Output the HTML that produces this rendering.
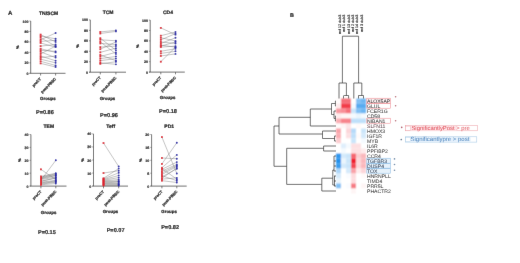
<!DOCTYPE html>
<html><head><meta charset="utf-8"><style>
html,body{margin:0;padding:0;background:#fff;}
body{width:520px;height:263px;overflow:hidden;}
svg{display:block;font-family:"Liberation Sans", sans-serif;text-rendering:geometricPrecision;will-change:transform;}
.s{stroke:#111;stroke-width:0.22px;}
.g{stroke:#333;stroke-width:0.03px;}
.r{stroke:#111;stroke-width:0.18px;}
.m{stroke:#111;stroke-width:0.16px;}
.c{stroke:#222;stroke-width:0.15px;}
.t{stroke:#111;stroke-width:0.16px;}
</style></head><body>
<svg width="520" height="263" viewBox="0 0 520 263">
<defs><filter id="gb" filterUnits="userSpaceOnUse" x="0" y="0" width="520" height="263"><feConvolveMatrix order="3" kernelMatrix="0 1 0 1 16 1 0 1 0" divisor="20" edgeMode="duplicate"/></filter></defs>
<g filter="url(#gb)">
<rect width="520" height="263" fill="#fff"/>
<defs><filter id="hb" filterUnits="userSpaceOnUse" x="330" y="92" width="42" height="108"><feConvolveMatrix order="3" kernelMatrix="1 2 1 2 4 2 1 2 1" divisor="16" edgeMode="none"/></filter></defs>
<g filter="url(#hb)">
<rect x="336.0" y="98.5" width="5.05" height="5.05" fill="#fffafa"/>
<rect x="341.0" y="98.5" width="5.05" height="5.05" fill="#f57079"/>
<rect x="346.0" y="98.5" width="5.05" height="5.05" fill="#f57079"/>
<rect x="351.0" y="98.5" width="5.05" height="5.05" fill="#ffffff"/>
<rect x="356.0" y="98.5" width="5.05" height="5.05" fill="#82c0f4"/>
<rect x="361.0" y="98.5" width="5.05" height="5.05" fill="#6db6f2"/>
<rect x="336.0" y="103.5" width="5.05" height="5.05" fill="#feebec"/>
<rect x="341.0" y="103.5" width="5.05" height="5.05" fill="#f23d4a"/>
<rect x="346.0" y="103.5" width="5.05" height="5.05" fill="#f23d4a"/>
<rect x="351.0" y="103.5" width="5.05" height="5.05" fill="#f5fafe"/>
<rect x="356.0" y="103.5" width="5.05" height="5.05" fill="#58abf0"/>
<rect x="361.0" y="103.5" width="5.05" height="5.05" fill="#58abf0"/>
<rect x="336.0" y="108.5" width="5.05" height="5.05" fill="#f899a0"/>
<rect x="341.0" y="108.5" width="5.05" height="5.05" fill="#f88e96"/>
<rect x="346.0" y="108.5" width="5.05" height="5.05" fill="#f57079"/>
<rect x="351.0" y="108.5" width="5.05" height="5.05" fill="#cbe5fa"/>
<rect x="356.0" y="108.5" width="5.05" height="5.05" fill="#82c0f4"/>
<rect x="361.0" y="108.5" width="5.05" height="5.05" fill="#6db6f2"/>
<rect x="336.0" y="113.5" width="5.05" height="5.05" fill="#feebec"/>
<rect x="341.0" y="113.5" width="5.05" height="5.05" fill="#fef5f5"/>
<rect x="346.0" y="113.5" width="5.05" height="5.05" fill="#fef5f5"/>
<rect x="351.0" y="113.5" width="5.05" height="5.05" fill="#f5fafe"/>
<rect x="356.0" y="113.5" width="5.05" height="5.05" fill="#eaf5fd"/>
<rect x="361.0" y="113.5" width="5.05" height="5.05" fill="#f5fafe"/>
<rect x="336.0" y="118.5" width="5.05" height="5.05" fill="#faadb3"/>
<rect x="341.0" y="118.5" width="5.05" height="5.05" fill="#f7848c"/>
<rect x="346.0" y="118.5" width="5.05" height="5.05" fill="#f7848c"/>
<rect x="351.0" y="118.5" width="5.05" height="5.05" fill="#c0e0fa"/>
<rect x="356.0" y="118.5" width="5.05" height="5.05" fill="#c0e0fa"/>
<rect x="361.0" y="118.5" width="5.05" height="5.05" fill="#c0e0fa"/>
<rect x="336.0" y="123.5" width="5.05" height="5.05" fill="#fffafa"/>
<rect x="341.0" y="123.5" width="5.05" height="5.05" fill="#fef5f5"/>
<rect x="346.0" y="123.5" width="5.05" height="5.05" fill="#fde5e7"/>
<rect x="351.0" y="123.5" width="5.05" height="5.05" fill="#ffffff"/>
<rect x="356.0" y="123.5" width="5.05" height="5.05" fill="#fffafa"/>
<rect x="361.0" y="123.5" width="5.05" height="5.05" fill="#ffffff"/>
<rect x="336.0" y="128.5" width="5.05" height="5.05" fill="#f9a3a9"/>
<rect x="341.0" y="128.5" width="5.05" height="5.05" fill="#ffffff"/>
<rect x="346.0" y="128.5" width="5.05" height="5.05" fill="#fcd6d9"/>
<rect x="351.0" y="128.5" width="5.05" height="5.05" fill="#b6daf9"/>
<rect x="356.0" y="128.5" width="5.05" height="5.05" fill="#ffffff"/>
<rect x="361.0" y="128.5" width="5.05" height="5.05" fill="#cbe5fa"/>
<rect x="336.0" y="133.5" width="5.05" height="5.05" fill="#faadb3"/>
<rect x="341.0" y="133.5" width="5.05" height="5.05" fill="#ffffff"/>
<rect x="346.0" y="133.5" width="5.05" height="5.05" fill="#fde0e2"/>
<rect x="351.0" y="133.5" width="5.05" height="5.05" fill="#c0e0fa"/>
<rect x="356.0" y="133.5" width="5.05" height="5.05" fill="#fffafa"/>
<rect x="361.0" y="133.5" width="5.05" height="5.05" fill="#d5eafb"/>
<rect x="336.0" y="138.5" width="5.05" height="5.05" fill="#fccccf"/>
<rect x="341.0" y="138.5" width="5.05" height="5.05" fill="#ffffff"/>
<rect x="346.0" y="138.5" width="5.05" height="5.05" fill="#ffffff"/>
<rect x="351.0" y="138.5" width="5.05" height="5.05" fill="#cbe5fa"/>
<rect x="356.0" y="138.5" width="5.05" height="5.05" fill="#ffffff"/>
<rect x="361.0" y="138.5" width="5.05" height="5.05" fill="#f5fafe"/>
<rect x="336.0" y="143.5" width="5.05" height="5.05" fill="#ffffff"/>
<rect x="341.0" y="143.5" width="5.05" height="5.05" fill="#e0effc"/>
<rect x="346.0" y="143.5" width="5.05" height="5.05" fill="#f5fafe"/>
<rect x="351.0" y="143.5" width="5.05" height="5.05" fill="#fde0e2"/>
<rect x="356.0" y="143.5" width="5.05" height="5.05" fill="#fde0e2"/>
<rect x="361.0" y="143.5" width="5.05" height="5.05" fill="#ffffff"/>
<rect x="336.0" y="148.5" width="5.05" height="5.05" fill="#ffffff"/>
<rect x="341.0" y="148.5" width="5.05" height="5.05" fill="#f5fafe"/>
<rect x="346.0" y="148.5" width="5.05" height="5.05" fill="#ffffff"/>
<rect x="351.0" y="148.5" width="5.05" height="5.05" fill="#fde0e2"/>
<rect x="356.0" y="148.5" width="5.05" height="5.05" fill="#fde0e2"/>
<rect x="361.0" y="148.5" width="5.05" height="5.05" fill="#feebec"/>
<rect x="336.0" y="153.5" width="5.05" height="5.05" fill="#2e96ed"/>
<rect x="341.0" y="153.5" width="5.05" height="5.05" fill="#d5eafb"/>
<rect x="346.0" y="153.5" width="5.05" height="5.05" fill="#cbe5fa"/>
<rect x="351.0" y="153.5" width="5.05" height="5.05" fill="#f56670"/>
<rect x="356.0" y="153.5" width="5.05" height="5.05" fill="#fccccf"/>
<rect x="361.0" y="153.5" width="5.05" height="5.05" fill="#fab7bc"/>
<rect x="336.0" y="158.5" width="5.05" height="5.05" fill="#2391ec"/>
<rect x="341.0" y="158.5" width="5.05" height="5.05" fill="#eaf5fd"/>
<rect x="346.0" y="158.5" width="5.05" height="5.05" fill="#cbe5fa"/>
<rect x="351.0" y="158.5" width="5.05" height="5.05" fill="#f01e2d"/>
<rect x="356.0" y="158.5" width="5.05" height="5.05" fill="#fcd6d9"/>
<rect x="361.0" y="158.5" width="5.05" height="5.05" fill="#fab7bc"/>
<rect x="336.0" y="163.5" width="5.05" height="5.05" fill="#389cee"/>
<rect x="341.0" y="163.5" width="5.05" height="5.05" fill="#d5eafb"/>
<rect x="346.0" y="163.5" width="5.05" height="5.05" fill="#cbe5fa"/>
<rect x="351.0" y="163.5" width="5.05" height="5.05" fill="#f34753"/>
<rect x="356.0" y="163.5" width="5.05" height="5.05" fill="#fcd6d9"/>
<rect x="361.0" y="163.5" width="5.05" height="5.05" fill="#fab7bc"/>
<rect x="336.0" y="168.5" width="5.05" height="5.05" fill="#abd5f8"/>
<rect x="341.0" y="168.5" width="5.05" height="5.05" fill="#ffffff"/>
<rect x="346.0" y="168.5" width="5.05" height="5.05" fill="#d5eafb"/>
<rect x="351.0" y="168.5" width="5.05" height="5.05" fill="#f9a3a9"/>
<rect x="356.0" y="168.5" width="5.05" height="5.05" fill="#feebec"/>
<rect x="361.0" y="168.5" width="5.05" height="5.05" fill="#fcd6d9"/>
<rect x="336.0" y="173.5" width="5.05" height="5.05" fill="#d5eafb"/>
<rect x="341.0" y="173.5" width="5.05" height="5.05" fill="#ffffff"/>
<rect x="346.0" y="173.5" width="5.05" height="5.05" fill="#fafcff"/>
<rect x="351.0" y="173.5" width="5.05" height="5.05" fill="#fddbde"/>
<rect x="356.0" y="173.5" width="5.05" height="5.05" fill="#ffffff"/>
<rect x="361.0" y="173.5" width="5.05" height="5.05" fill="#fffafa"/>
<rect x="336.0" y="178.5" width="5.05" height="5.05" fill="#eaf5fd"/>
<rect x="341.0" y="178.5" width="5.05" height="5.05" fill="#ffffff"/>
<rect x="346.0" y="178.5" width="5.05" height="5.05" fill="#ffffff"/>
<rect x="351.0" y="178.5" width="5.05" height="5.05" fill="#fddbde"/>
<rect x="356.0" y="178.5" width="5.05" height="5.05" fill="#ffffff"/>
<rect x="361.0" y="178.5" width="5.05" height="5.05" fill="#ffffff"/>
<rect x="336.0" y="183.5" width="5.05" height="5.05" fill="#82c0f4"/>
<rect x="341.0" y="183.5" width="5.05" height="5.05" fill="#ffffff"/>
<rect x="346.0" y="183.5" width="5.05" height="5.05" fill="#fafcff"/>
<rect x="351.0" y="183.5" width="5.05" height="5.05" fill="#f67a83"/>
<rect x="356.0" y="183.5" width="5.05" height="5.05" fill="#ffffff"/>
<rect x="361.0" y="183.5" width="5.05" height="5.05" fill="#fef5f5"/>
<rect x="336.0" y="188.5" width="5.05" height="5.05" fill="#ffffff"/>
<rect x="341.0" y="188.5" width="5.05" height="5.05" fill="#ffffff"/>
<rect x="346.0" y="188.5" width="5.05" height="5.05" fill="#ffffff"/>
<rect x="351.0" y="188.5" width="5.05" height="5.05" fill="#fef5f5"/>
<rect x="356.0" y="188.5" width="5.05" height="5.05" fill="#ffffff"/>
<rect x="361.0" y="188.5" width="5.05" height="5.05" fill="#ffffff"/>
</g>
<rect x="366.8" y="158.20" width="23.5" height="5.00" fill="#e6f2fb"/>
<rect x="366.8" y="163.20" width="23.5" height="5.00" fill="#e6f2fb"/>
<rect x="366.8" y="168.20" width="23.5" height="5.00" fill="#e6f2fb"/>
<rect x="366.8" y="98.20" width="23.5" height="5.00" fill="#fdf0f1"/>
<text class="g" x="367" y="102.60" font-size="5.1" fill="#2a2a2a">ALOX5AP</text>
<text class="g" x="367" y="107.60" font-size="5.1" fill="#2a2a2a">GLUL</text>
<text class="g" x="367" y="112.60" font-size="5.1" fill="#2a2a2a">FCER1G</text>
<text class="g" x="367" y="117.60" font-size="5.1" fill="#2a2a2a">CD58</text>
<text class="g" x="367" y="122.60" font-size="5.1" fill="#2a2a2a">NIBAN1</text>
<text class="g" x="367" y="127.60" font-size="5.1" fill="#5a3842">SLFN11</text>
<text class="g" x="367" y="132.60" font-size="5.1" fill="#2a2a2a">HMOX3</text>
<text class="g" x="367" y="137.60" font-size="5.1" fill="#2a2a2a">IGF1R</text>
<text class="g" x="367" y="142.60" font-size="5.1" fill="#2a2a2a">MYB</text>
<text class="g" x="367" y="147.60" font-size="5.1" fill="#2a2a2a">IL6R</text>
<text class="g" x="367" y="152.60" font-size="5.1" fill="#2a2a2a">PPFIBP2</text>
<text class="g" x="367" y="157.60" font-size="5.1" fill="#2a2a2a">CCR4</text>
<text class="g" x="367" y="162.60" font-size="5.1" fill="#1f2c44">TGFBR3</text>
<text class="g" x="367" y="167.60" font-size="5.1" fill="#1f2c44">DUSP4</text>
<text class="g" x="367" y="172.60" font-size="5.1" fill="#1f2c44">TOX</text>
<text class="g" x="367" y="177.60" font-size="5.1" fill="#2a2a2a">HNRNPLL</text>
<text class="g" x="367" y="182.60" font-size="5.1" fill="#2a2a2a">TIMD4</text>
<text class="g" x="367" y="187.60" font-size="5.1" fill="#2a2a2a">PRR5L</text>
<text class="g" x="367" y="192.60" font-size="5.1" fill="#2a2a2a">PHACTR2</text>
<rect x="366.8" y="98.20" width="23.5" height="5.00" fill="none" stroke="#ec7f86" stroke-width="0.5"/>
<rect x="366.8" y="103.20" width="23.5" height="5.00" fill="none" stroke="#ec7f86" stroke-width="0.5"/>
<rect x="366.8" y="118.20" width="23.5" height="5.00" fill="none" stroke="#ec7f86" stroke-width="0.5"/>
<rect x="366.8" y="158.20" width="23.5" height="5.00" fill="none" stroke="#7fb4e0" stroke-width="0.5"/>
<rect x="366.8" y="163.20" width="23.5" height="5.00" fill="none" stroke="#7fb4e0" stroke-width="0.5"/>
<rect x="366.8" y="168.20" width="23.5" height="5.00" fill="none" stroke="#7fb4e0" stroke-width="0.5"/>
<circle cx="395.6" cy="96.8" r="0.8" fill="#b86872"/>
<circle cx="395.6" cy="105.7" r="0.8" fill="#b86872"/>
<circle cx="395.6" cy="120.8" r="0.8" fill="#b86872"/>
<circle cx="394.5" cy="158.9" r="0.8" fill="#6a88a8"/>
<circle cx="394.5" cy="164.5" r="0.8" fill="#6a88a8"/>
<circle cx="394.5" cy="170.2" r="0.8" fill="#6a88a8"/>
<path d="M274,126 V166.3" fill="none" stroke="#3a3a3a" stroke-width="0.75"/>
<path d="M274,126 H279 M274,166.3 H286.7" fill="none" stroke="#3a3a3a" stroke-width="0.75"/>
<path d="M279,117.3 V134 M279,117.3 H310.3 M279,134 H322.5" fill="none" stroke="#3a3a3a" stroke-width="0.75"/>
<path d="M310.3,109 V126.0 M310.3,126.0 H336" fill="none" stroke="#3a3a3a" stroke-width="0.75"/>
<path d="M310.3,109 H331.5 M331.5,103.5 V114.5" fill="none" stroke="#3a3a3a" stroke-width="0.75"/>
<path d="M331.5,103.5 H335.4 M335.4,101.0 V106.0 M335.4,101.0 H336 M335.4,106.0 H336" fill="none" stroke="#3a3a3a" stroke-width="0.75"/>
<path d="M331.5,114.5 H334 M334,111.0 V118.5 M334,111.0 H336 M334,118.5 H335.4 M335.4,116.0 V121.0 M335.4,116.0 H336 M335.4,121.0 H336" fill="none" stroke="#3a3a3a" stroke-width="0.75"/>
<path d="M322.5,131.0 V138.5 M322.5,131.0 H336 M322.5,138.5 H334.5 M334.5,136.0 V141.0 M334.5,136.0 H336 M334.5,141.0 H336" fill="none" stroke="#3a3a3a" stroke-width="0.75"/>
<path d="M286.7,148.3 V184.4" fill="none" stroke="#3a3a3a" stroke-width="0.75"/>
<path d="M286.7,148.3 H323.6 M323.6,146.0 V151.0 M323.6,146.0 H336 M323.6,151.0 H336" fill="none" stroke="#3a3a3a" stroke-width="0.75"/>
<path d="M286.7,184.4 H321.8 M321.8,178.2 V191.0 M321.8,191.0 H336 M321.8,178.2 H332.8" fill="none" stroke="#3a3a3a" stroke-width="0.75"/>
<path d="M332.8,170 V185 M332.8,170 H334 M334,156.0 V171.0 M332.8,185 H334.5 M334.5,176.0 V186.0" fill="none" stroke="#3a3a3a" stroke-width="0.75"/>
<path d="M334,156.0 H336" fill="none" stroke="#3a3a3a" stroke-width="0.75"/>
<path d="M334,161.0 H336" fill="none" stroke="#3a3a3a" stroke-width="0.75"/>
<path d="M334,166.0 H336" fill="none" stroke="#3a3a3a" stroke-width="0.75"/>
<path d="M334,171.0 H336" fill="none" stroke="#3a3a3a" stroke-width="0.75"/>
<path d="M334,176.0 H336" fill="none" stroke="#3a3a3a" stroke-width="0.75"/>
<path d="M334,181.0 H336" fill="none" stroke="#3a3a3a" stroke-width="0.75"/>
<path d="M334,186.0 H336" fill="none" stroke="#3a3a3a" stroke-width="0.75"/>
<path d="M342.4,36.2 H358.6 M342.4,36.2 V83 M358.6,36.2 V83" fill="none" stroke="#3a3a3a" stroke-width="0.75"/>
<path d="M339,83 H346.4 M339,83 V98.5 M346.4,83 V95.5 M344.1,95.5 H348.6 M343.5,95.5 V98.5 M348.6,95.5 V98.5" fill="none" stroke="#3a3a3a" stroke-width="0.75"/>
<path d="M353.8,83 H361.8 M353.8,83 V98.5 M361.8,83 V95.5 M358.5,95.5 H363.5 M358.5,95.5 V98.5 M363.5,95.5 V98.5" fill="none" stroke="#3a3a3a" stroke-width="0.75"/>
<text class="c" x="0" y="0" font-size="3.7" fill="#222" text-anchor="end" transform="translate(340.9,14.6) rotate(-90)">ecf 12 dub3</text>
<text class="c" x="0" y="0" font-size="3.7" fill="#222" text-anchor="end" transform="translate(345.25,14.6) rotate(-90)">ecf 1 dub3</text>
<text class="c" x="0" y="0" font-size="3.7" fill="#222" text-anchor="end" transform="translate(349.59999999999997,14.6) rotate(-90)">ecf 13 dub3</text>
<text class="c" x="0" y="0" font-size="3.7" fill="#222" text-anchor="end" transform="translate(353.95,14.6) rotate(-90)">ecf 2 dub3</text>
<text class="c" x="0" y="0" font-size="3.7" fill="#222" text-anchor="end" transform="translate(358.29999999999995,14.6) rotate(-90)">ecf 14 dub3</text>
<text class="c" x="0" y="0" font-size="3.7" fill="#222" text-anchor="end" transform="translate(362.65,14.6) rotate(-90)">ecf 3 dub3</text>
<circle cx="401.7" cy="127.3" r="0.85" fill="#b05868"/>
<circle cx="401.3" cy="139.5" r="0.85" fill="#607890"/>
<rect x="405.3" y="125.6" width="72" height="5.2" fill="#fff" stroke="#eb9aa1" stroke-width="0.5"/>
<rect x="410.6" y="125.9" width="46" height="4.7" fill="#fde2e5"/>
<rect x="405.6" y="126.1" width="4.8" height="4.2" fill="#fff" stroke="#eb9aa1" stroke-width="0.4"/>
<text x="411.4" y="130.2" font-size="5.9" fill="#e04a55">SignificantlyPost &gt; pre</text>
<rect x="405.3" y="136.8" width="71.5" height="5.3" fill="#fff" stroke="#9cc2e2" stroke-width="0.5"/>
<rect x="410.6" y="137.1" width="60" height="4.8" fill="#e3f0fb"/>
<rect x="405.6" y="137.3" width="4.8" height="4.2" fill="#fff" stroke="#9cc2e2" stroke-width="0.4"/>
<text x="410.5" y="141.4" font-size="6.0" fill="#4a82bc">Significantlypre &gt; post</text>
<path d="M30.7,21.0 V73.3 H65.5" fill="none" stroke="#555" stroke-width="0.85"/>
<path d="M29.5,73.3 H30.7" stroke="#555" stroke-width="0.85"/>
<path d="M29.4,73.30 H30.7" stroke="#555" stroke-width="0.6"/>
<text class="t" x="28.4" y="74.80" font-size="3.6" text-anchor="end" font-weight="bold" fill="#111">0</text>
<path d="M29.4,62.84 H30.7" stroke="#555" stroke-width="0.6"/>
<text class="t" x="28.4" y="64.34" font-size="3.6" text-anchor="end" font-weight="bold" fill="#111">20</text>
<path d="M29.4,52.38 H30.7" stroke="#555" stroke-width="0.6"/>
<text class="t" x="28.4" y="53.88" font-size="3.6" text-anchor="end" font-weight="bold" fill="#111">40</text>
<path d="M29.4,41.92 H30.7" stroke="#555" stroke-width="0.6"/>
<text class="t" x="28.4" y="43.42" font-size="3.6" text-anchor="end" font-weight="bold" fill="#111">60</text>
<path d="M29.4,31.46 H30.7" stroke="#555" stroke-width="0.6"/>
<text class="t" x="28.4" y="32.96" font-size="3.6" text-anchor="end" font-weight="bold" fill="#111">80</text>
<path d="M29.4,21.00 H30.7" stroke="#555" stroke-width="0.6"/>
<text class="t" x="28.4" y="22.50" font-size="3.6" text-anchor="end" font-weight="bold" fill="#111">100</text>
<path d="M40.6,73.3 V75.5" stroke="#555" stroke-width="0.8"/>
<path d="M55.6,73.3 V75.5" stroke="#555" stroke-width="0.8"/>
<text class="s" x="0" y="0" font-size="4" font-weight="bold" fill="#000" transform="translate(19.35,47.15) rotate(-90)" text-anchor="middle">%</text>
<line x1="40.6" y1="34.60" x2="55.6" y2="41.92" stroke="#6a6a6a" stroke-width="0.4"/>
<line x1="40.6" y1="36.17" x2="55.6" y2="38.78" stroke="#6a6a6a" stroke-width="0.4"/>
<line x1="40.6" y1="37.74" x2="55.6" y2="46.10" stroke="#6a6a6a" stroke-width="0.4"/>
<line x1="40.6" y1="39.83" x2="55.6" y2="33.03" stroke="#6a6a6a" stroke-width="0.4"/>
<line x1="40.6" y1="41.40" x2="55.6" y2="40.35" stroke="#6a6a6a" stroke-width="0.4"/>
<line x1="40.6" y1="42.97" x2="55.6" y2="47.15" stroke="#6a6a6a" stroke-width="0.4"/>
<line x1="40.6" y1="46.10" x2="55.6" y2="44.53" stroke="#6a6a6a" stroke-width="0.4"/>
<line x1="40.6" y1="48.72" x2="55.6" y2="52.38" stroke="#6a6a6a" stroke-width="0.4"/>
<line x1="40.6" y1="50.29" x2="55.6" y2="51.33" stroke="#6a6a6a" stroke-width="0.4"/>
<line x1="40.6" y1="51.86" x2="55.6" y2="57.61" stroke="#6a6a6a" stroke-width="0.4"/>
<line x1="40.6" y1="53.95" x2="55.6" y2="46.10" stroke="#6a6a6a" stroke-width="0.4"/>
<line x1="40.6" y1="56.04" x2="55.6" y2="60.75" stroke="#6a6a6a" stroke-width="0.4"/>
<line x1="40.6" y1="57.61" x2="55.6" y2="56.04" stroke="#6a6a6a" stroke-width="0.4"/>
<line x1="40.6" y1="59.18" x2="55.6" y2="62.84" stroke="#6a6a6a" stroke-width="0.4"/>
<line x1="40.6" y1="61.27" x2="55.6" y2="65.45" stroke="#6a6a6a" stroke-width="0.4"/>
<line x1="40.6" y1="63.36" x2="55.6" y2="67.02" stroke="#6a6a6a" stroke-width="0.4"/>
<rect x="39.7" y="33.70" width="1.8" height="1.8" fill="#dc1f2c"/>
<rect x="39.7" y="35.27" width="1.8" height="1.8" fill="#dc1f2c"/>
<rect x="39.7" y="36.84" width="1.8" height="1.8" fill="#dc1f2c"/>
<rect x="39.7" y="38.93" width="1.8" height="1.8" fill="#dc1f2c"/>
<rect x="39.7" y="40.50" width="1.8" height="1.8" fill="#dc1f2c"/>
<rect x="39.7" y="42.07" width="1.8" height="1.8" fill="#dc1f2c"/>
<rect x="39.7" y="45.20" width="1.8" height="1.8" fill="#dc1f2c"/>
<rect x="39.7" y="47.82" width="1.8" height="1.8" fill="#dc1f2c"/>
<rect x="39.7" y="49.39" width="1.8" height="1.8" fill="#dc1f2c"/>
<rect x="39.7" y="50.96" width="1.8" height="1.8" fill="#dc1f2c"/>
<rect x="39.7" y="53.05" width="1.8" height="1.8" fill="#dc1f2c"/>
<rect x="39.7" y="55.14" width="1.8" height="1.8" fill="#dc1f2c"/>
<rect x="39.7" y="56.71" width="1.8" height="1.8" fill="#dc1f2c"/>
<rect x="39.7" y="58.28" width="1.8" height="1.8" fill="#dc1f2c"/>
<rect x="39.7" y="60.37" width="1.8" height="1.8" fill="#dc1f2c"/>
<rect x="39.7" y="62.46" width="1.8" height="1.8" fill="#dc1f2c"/>
<circle cx="55.6" cy="41.92" r="0.95" fill="#1e1ea6"/>
<circle cx="55.6" cy="38.78" r="0.95" fill="#1e1ea6"/>
<circle cx="55.6" cy="46.10" r="0.95" fill="#1e1ea6"/>
<circle cx="55.6" cy="33.03" r="0.95" fill="#1e1ea6"/>
<circle cx="55.6" cy="40.35" r="0.95" fill="#1e1ea6"/>
<circle cx="55.6" cy="47.15" r="0.95" fill="#1e1ea6"/>
<circle cx="55.6" cy="44.53" r="0.95" fill="#1e1ea6"/>
<circle cx="55.6" cy="52.38" r="0.95" fill="#1e1ea6"/>
<circle cx="55.6" cy="51.33" r="0.95" fill="#1e1ea6"/>
<circle cx="55.6" cy="57.61" r="0.95" fill="#1e1ea6"/>
<circle cx="55.6" cy="46.10" r="0.95" fill="#1e1ea6"/>
<circle cx="55.6" cy="60.75" r="0.95" fill="#1e1ea6"/>
<circle cx="55.6" cy="56.04" r="0.95" fill="#1e1ea6"/>
<circle cx="55.6" cy="62.84" r="0.95" fill="#1e1ea6"/>
<circle cx="55.6" cy="65.45" r="0.95" fill="#1e1ea6"/>
<circle cx="55.6" cy="67.02" r="0.95" fill="#1e1ea6"/>
<text class="s" x="0" y="0" font-size="3.85" font-weight="bold" fill="#222" text-anchor="end" transform="translate(41.5,79.3) rotate(-45)">preCT</text>
<text class="s" x="0" y="0" font-size="3.85" font-weight="bold" fill="#222" text-anchor="end" transform="translate(56.5,79.3) rotate(-45)">post-PBSC</text>
<text class="s" x="48.6" y="14.6" font-size="5" font-weight="bold" text-anchor="middle" fill="#111">TN/SCM</text>
<text class="s" x="47.9" y="100.1" font-size="4.4" font-weight="bold" text-anchor="middle" fill="#222">Groups</text>
<text class="m" x="44.9" y="113.6" font-size="5.6" font-weight="bold" text-anchor="middle" fill="#111">P=0.86</text>
<path d="M90.3,19.9 V72.2 H126" fill="none" stroke="#555" stroke-width="0.85"/>
<path d="M89.1,72.2 H90.3" stroke="#555" stroke-width="0.85"/>
<path d="M89.0,72.20 H90.3" stroke="#555" stroke-width="0.6"/>
<text class="t" x="88.0" y="73.70" font-size="3.6" text-anchor="end" font-weight="bold" fill="#111">0</text>
<path d="M89.0,61.74 H90.3" stroke="#555" stroke-width="0.6"/>
<text class="t" x="88.0" y="63.24" font-size="3.6" text-anchor="end" font-weight="bold" fill="#111">20</text>
<path d="M89.0,51.28 H90.3" stroke="#555" stroke-width="0.6"/>
<text class="t" x="88.0" y="52.78" font-size="3.6" text-anchor="end" font-weight="bold" fill="#111">40</text>
<path d="M89.0,40.82 H90.3" stroke="#555" stroke-width="0.6"/>
<text class="t" x="88.0" y="42.32" font-size="3.6" text-anchor="end" font-weight="bold" fill="#111">60</text>
<path d="M89.0,30.36 H90.3" stroke="#555" stroke-width="0.6"/>
<text class="t" x="88.0" y="31.86" font-size="3.6" text-anchor="end" font-weight="bold" fill="#111">80</text>
<path d="M89.0,19.90 H90.3" stroke="#555" stroke-width="0.6"/>
<text class="t" x="88.0" y="21.40" font-size="3.6" text-anchor="end" font-weight="bold" fill="#111">100</text>
<path d="M100.3,72.2 V74.4" stroke="#555" stroke-width="0.8"/>
<path d="M115.9,72.2 V74.4" stroke="#555" stroke-width="0.8"/>
<text class="s" x="0" y="0" font-size="4" font-weight="bold" fill="#000" transform="translate(78.95,46.05) rotate(-90)" text-anchor="middle">%</text>
<line x1="100.3" y1="31.93" x2="115.9" y2="30.36" stroke="#6a6a6a" stroke-width="0.4"/>
<line x1="100.3" y1="33.50" x2="115.9" y2="31.41" stroke="#6a6a6a" stroke-width="0.4"/>
<line x1="100.3" y1="38.20" x2="115.9" y2="50.23" stroke="#6a6a6a" stroke-width="0.4"/>
<line x1="100.3" y1="39.77" x2="115.9" y2="40.82" stroke="#6a6a6a" stroke-width="0.4"/>
<line x1="100.3" y1="41.87" x2="115.9" y2="53.89" stroke="#6a6a6a" stroke-width="0.4"/>
<line x1="100.3" y1="43.44" x2="115.9" y2="44.48" stroke="#6a6a6a" stroke-width="0.4"/>
<line x1="100.3" y1="47.10" x2="115.9" y2="46.05" stroke="#6a6a6a" stroke-width="0.4"/>
<line x1="100.3" y1="49.19" x2="115.9" y2="41.87" stroke="#6a6a6a" stroke-width="0.4"/>
<line x1="100.3" y1="52.33" x2="115.9" y2="48.14" stroke="#6a6a6a" stroke-width="0.4"/>
<line x1="100.3" y1="54.94" x2="115.9" y2="60.69" stroke="#6a6a6a" stroke-width="0.4"/>
<line x1="100.3" y1="56.51" x2="115.9" y2="52.33" stroke="#6a6a6a" stroke-width="0.4"/>
<line x1="100.3" y1="58.60" x2="115.9" y2="56.51" stroke="#6a6a6a" stroke-width="0.4"/>
<line x1="100.3" y1="60.69" x2="115.9" y2="58.60" stroke="#6a6a6a" stroke-width="0.4"/>
<line x1="100.3" y1="62.79" x2="115.9" y2="64.36" stroke="#6a6a6a" stroke-width="0.4"/>
<line x1="100.3" y1="63.83" x2="115.9" y2="61.74" stroke="#6a6a6a" stroke-width="0.4"/>
<rect x="99.39999999999999" y="31.03" width="1.8" height="1.8" fill="#dc1f2c"/>
<rect x="99.39999999999999" y="32.60" width="1.8" height="1.8" fill="#dc1f2c"/>
<rect x="99.39999999999999" y="37.30" width="1.8" height="1.8" fill="#dc1f2c"/>
<rect x="99.39999999999999" y="38.87" width="1.8" height="1.8" fill="#dc1f2c"/>
<rect x="99.39999999999999" y="40.97" width="1.8" height="1.8" fill="#dc1f2c"/>
<rect x="99.39999999999999" y="42.54" width="1.8" height="1.8" fill="#dc1f2c"/>
<rect x="99.39999999999999" y="46.20" width="1.8" height="1.8" fill="#dc1f2c"/>
<rect x="99.39999999999999" y="48.29" width="1.8" height="1.8" fill="#dc1f2c"/>
<rect x="99.39999999999999" y="51.43" width="1.8" height="1.8" fill="#dc1f2c"/>
<rect x="99.39999999999999" y="54.04" width="1.8" height="1.8" fill="#dc1f2c"/>
<rect x="99.39999999999999" y="55.61" width="1.8" height="1.8" fill="#dc1f2c"/>
<rect x="99.39999999999999" y="57.70" width="1.8" height="1.8" fill="#dc1f2c"/>
<rect x="99.39999999999999" y="59.79" width="1.8" height="1.8" fill="#dc1f2c"/>
<rect x="99.39999999999999" y="61.89" width="1.8" height="1.8" fill="#dc1f2c"/>
<rect x="99.39999999999999" y="62.93" width="1.8" height="1.8" fill="#dc1f2c"/>
<circle cx="115.9" cy="30.36" r="0.95" fill="#1e1ea6"/>
<circle cx="115.9" cy="31.41" r="0.95" fill="#1e1ea6"/>
<circle cx="115.9" cy="50.23" r="0.95" fill="#1e1ea6"/>
<circle cx="115.9" cy="40.82" r="0.95" fill="#1e1ea6"/>
<circle cx="115.9" cy="53.89" r="0.95" fill="#1e1ea6"/>
<circle cx="115.9" cy="44.48" r="0.95" fill="#1e1ea6"/>
<circle cx="115.9" cy="46.05" r="0.95" fill="#1e1ea6"/>
<circle cx="115.9" cy="41.87" r="0.95" fill="#1e1ea6"/>
<circle cx="115.9" cy="48.14" r="0.95" fill="#1e1ea6"/>
<circle cx="115.9" cy="60.69" r="0.95" fill="#1e1ea6"/>
<circle cx="115.9" cy="52.33" r="0.95" fill="#1e1ea6"/>
<circle cx="115.9" cy="56.51" r="0.95" fill="#1e1ea6"/>
<circle cx="115.9" cy="58.60" r="0.95" fill="#1e1ea6"/>
<circle cx="115.9" cy="64.36" r="0.95" fill="#1e1ea6"/>
<circle cx="115.9" cy="61.74" r="0.95" fill="#1e1ea6"/>
<text class="s" x="0" y="0" font-size="3.85" font-weight="bold" fill="#222" text-anchor="end" transform="translate(101.2,78.2) rotate(-45)">preCT</text>
<text class="s" x="0" y="0" font-size="3.85" font-weight="bold" fill="#222" text-anchor="end" transform="translate(116.80000000000001,78.2) rotate(-45)">post-PBSC</text>
<text class="s" x="108.1" y="13.7" font-size="5" font-weight="bold" text-anchor="middle" fill="#111">TCM</text>
<text class="s" x="107.5" y="99.9" font-size="4.4" font-weight="bold" text-anchor="middle" fill="#222">Groups</text>
<text class="m" x="109" y="116.6" font-size="5.6" font-weight="bold" text-anchor="middle" fill="#111">P=0.96</text>
<path d="M150.2,20.1 V72.1 H184.8" fill="none" stroke="#555" stroke-width="0.85"/>
<path d="M149.0,72.1 H150.2" stroke="#555" stroke-width="0.85"/>
<path d="M148.89999999999998,72.10 H150.2" stroke="#555" stroke-width="0.6"/>
<text class="t" x="147.89999999999998" y="73.60" font-size="3.6" text-anchor="end" font-weight="bold" fill="#111">0</text>
<path d="M148.89999999999998,61.70 H150.2" stroke="#555" stroke-width="0.6"/>
<text class="t" x="147.89999999999998" y="63.20" font-size="3.6" text-anchor="end" font-weight="bold" fill="#111">20</text>
<path d="M148.89999999999998,51.30 H150.2" stroke="#555" stroke-width="0.6"/>
<text class="t" x="147.89999999999998" y="52.80" font-size="3.6" text-anchor="end" font-weight="bold" fill="#111">40</text>
<path d="M148.89999999999998,40.90 H150.2" stroke="#555" stroke-width="0.6"/>
<text class="t" x="147.89999999999998" y="42.40" font-size="3.6" text-anchor="end" font-weight="bold" fill="#111">60</text>
<path d="M148.89999999999998,30.50 H150.2" stroke="#555" stroke-width="0.6"/>
<text class="t" x="147.89999999999998" y="32.00" font-size="3.6" text-anchor="end" font-weight="bold" fill="#111">80</text>
<path d="M148.89999999999998,20.10 H150.2" stroke="#555" stroke-width="0.6"/>
<text class="t" x="147.89999999999998" y="21.60" font-size="3.6" text-anchor="end" font-weight="bold" fill="#111">100</text>
<path d="M160.8,72.1 V74.3" stroke="#555" stroke-width="0.8"/>
<path d="M175.5,72.1 V74.3" stroke="#555" stroke-width="0.8"/>
<text class="s" x="0" y="0" font-size="4" font-weight="bold" fill="#000" transform="translate(138.85,46.099999999999994) rotate(-90)" text-anchor="middle">%</text>
<line x1="160.8" y1="27.90" x2="175.5" y2="34.66" stroke="#6a6a6a" stroke-width="0.4"/>
<line x1="160.8" y1="35.70" x2="175.5" y2="32.06" stroke="#6a6a6a" stroke-width="0.4"/>
<line x1="160.8" y1="37.78" x2="175.5" y2="40.90" stroke="#6a6a6a" stroke-width="0.4"/>
<line x1="160.8" y1="39.86" x2="175.5" y2="33.62" stroke="#6a6a6a" stroke-width="0.4"/>
<line x1="160.8" y1="41.94" x2="175.5" y2="43.50" stroke="#6a6a6a" stroke-width="0.4"/>
<line x1="160.8" y1="43.50" x2="175.5" y2="37.78" stroke="#6a6a6a" stroke-width="0.4"/>
<line x1="160.8" y1="45.06" x2="175.5" y2="47.14" stroke="#6a6a6a" stroke-width="0.4"/>
<line x1="160.8" y1="46.10" x2="175.5" y2="41.94" stroke="#6a6a6a" stroke-width="0.4"/>
<line x1="160.8" y1="47.14" x2="175.5" y2="46.10" stroke="#6a6a6a" stroke-width="0.4"/>
<line x1="160.8" y1="51.30" x2="175.5" y2="48.70" stroke="#6a6a6a" stroke-width="0.4"/>
<line x1="160.8" y1="53.38" x2="175.5" y2="51.30" stroke="#6a6a6a" stroke-width="0.4"/>
<line x1="160.8" y1="55.98" x2="175.5" y2="53.90" stroke="#6a6a6a" stroke-width="0.4"/>
<line x1="160.8" y1="61.70" x2="175.5" y2="47.14" stroke="#6a6a6a" stroke-width="0.4"/>
<rect x="159.9" y="27.00" width="1.8" height="1.8" fill="#dc1f2c"/>
<rect x="159.9" y="34.80" width="1.8" height="1.8" fill="#dc1f2c"/>
<rect x="159.9" y="36.88" width="1.8" height="1.8" fill="#dc1f2c"/>
<rect x="159.9" y="38.96" width="1.8" height="1.8" fill="#dc1f2c"/>
<rect x="159.9" y="41.04" width="1.8" height="1.8" fill="#dc1f2c"/>
<rect x="159.9" y="42.60" width="1.8" height="1.8" fill="#dc1f2c"/>
<rect x="159.9" y="44.16" width="1.8" height="1.8" fill="#dc1f2c"/>
<rect x="159.9" y="45.20" width="1.8" height="1.8" fill="#dc1f2c"/>
<rect x="159.9" y="46.24" width="1.8" height="1.8" fill="#dc1f2c"/>
<rect x="159.9" y="50.40" width="1.8" height="1.8" fill="#dc1f2c"/>
<rect x="159.9" y="52.48" width="1.8" height="1.8" fill="#dc1f2c"/>
<rect x="159.9" y="55.08" width="1.8" height="1.8" fill="#dc1f2c"/>
<rect x="159.9" y="60.80" width="1.8" height="1.8" fill="#dc1f2c"/>
<circle cx="175.5" cy="34.66" r="0.95" fill="#1e1ea6"/>
<circle cx="175.5" cy="32.06" r="0.95" fill="#1e1ea6"/>
<circle cx="175.5" cy="40.90" r="0.95" fill="#1e1ea6"/>
<circle cx="175.5" cy="33.62" r="0.95" fill="#1e1ea6"/>
<circle cx="175.5" cy="43.50" r="0.95" fill="#1e1ea6"/>
<circle cx="175.5" cy="37.78" r="0.95" fill="#1e1ea6"/>
<circle cx="175.5" cy="47.14" r="0.95" fill="#1e1ea6"/>
<circle cx="175.5" cy="41.94" r="0.95" fill="#1e1ea6"/>
<circle cx="175.5" cy="46.10" r="0.95" fill="#1e1ea6"/>
<circle cx="175.5" cy="48.70" r="0.95" fill="#1e1ea6"/>
<circle cx="175.5" cy="51.30" r="0.95" fill="#1e1ea6"/>
<circle cx="175.5" cy="53.90" r="0.95" fill="#1e1ea6"/>
<circle cx="175.5" cy="47.14" r="0.95" fill="#1e1ea6"/>
<text class="s" x="0" y="0" font-size="3.85" font-weight="bold" fill="#222" text-anchor="end" transform="translate(161.70000000000002,78.1) rotate(-45)">preCT</text>
<text class="s" x="0" y="0" font-size="3.85" font-weight="bold" fill="#222" text-anchor="end" transform="translate(176.4,78.1) rotate(-45)">post-PBSC</text>
<text class="s" x="168" y="13.7" font-size="5" font-weight="bold" text-anchor="middle" fill="#111">CD4</text>
<text class="s" x="167.6" y="99.1" font-size="4.4" font-weight="bold" text-anchor="middle" fill="#222">Groups</text>
<text class="m" x="168" y="113.4" font-size="5.6" font-weight="bold" text-anchor="middle" fill="#111">P=0.18</text>
<path d="M30.9,134.5 V186.1 H66.5" fill="none" stroke="#555" stroke-width="0.85"/>
<path d="M29.7,186.1 H30.9" stroke="#555" stroke-width="0.85"/>
<path d="M29.599999999999998,186.10 H30.9" stroke="#555" stroke-width="0.6"/>
<text class="t" x="28.599999999999998" y="187.60" font-size="3.6" text-anchor="end" font-weight="bold" fill="#111">0</text>
<path d="M29.599999999999998,173.20 H30.9" stroke="#555" stroke-width="0.6"/>
<text class="t" x="28.599999999999998" y="174.70" font-size="3.6" text-anchor="end" font-weight="bold" fill="#111">10</text>
<path d="M29.599999999999998,160.30 H30.9" stroke="#555" stroke-width="0.6"/>
<text class="t" x="28.599999999999998" y="161.80" font-size="3.6" text-anchor="end" font-weight="bold" fill="#111">20</text>
<path d="M29.599999999999998,147.40 H30.9" stroke="#555" stroke-width="0.6"/>
<text class="t" x="28.599999999999998" y="148.90" font-size="3.6" text-anchor="end" font-weight="bold" fill="#111">30</text>
<path d="M29.599999999999998,134.50 H30.9" stroke="#555" stroke-width="0.6"/>
<text class="t" x="28.599999999999998" y="136.00" font-size="3.6" text-anchor="end" font-weight="bold" fill="#111">40</text>
<path d="M40.9,186.1 V188.29999999999998" stroke="#555" stroke-width="0.8"/>
<path d="M55.8,186.1 V188.29999999999998" stroke="#555" stroke-width="0.8"/>
<text class="s" x="0" y="0" font-size="4" font-weight="bold" fill="#000" transform="translate(21.049999999999997,160.3) rotate(-90)" text-anchor="middle">%</text>
<line x1="40.9" y1="169.33" x2="55.8" y2="179.65" stroke="#6a6a6a" stroke-width="0.4"/>
<line x1="40.9" y1="176.42" x2="55.8" y2="173.20" stroke="#6a6a6a" stroke-width="0.4"/>
<line x1="40.9" y1="177.07" x2="55.8" y2="173.84" stroke="#6a6a6a" stroke-width="0.4"/>
<line x1="40.9" y1="177.72" x2="55.8" y2="174.49" stroke="#6a6a6a" stroke-width="0.4"/>
<line x1="40.9" y1="178.36" x2="55.8" y2="175.13" stroke="#6a6a6a" stroke-width="0.4"/>
<line x1="40.9" y1="179.00" x2="55.8" y2="175.78" stroke="#6a6a6a" stroke-width="0.4"/>
<line x1="40.9" y1="179.65" x2="55.8" y2="177.07" stroke="#6a6a6a" stroke-width="0.4"/>
<line x1="40.9" y1="180.29" x2="55.8" y2="160.30" stroke="#6a6a6a" stroke-width="0.4"/>
<line x1="40.9" y1="180.94" x2="55.8" y2="178.36" stroke="#6a6a6a" stroke-width="0.4"/>
<line x1="40.9" y1="181.59" x2="55.8" y2="177.72" stroke="#6a6a6a" stroke-width="0.4"/>
<line x1="40.9" y1="182.23" x2="55.8" y2="180.29" stroke="#6a6a6a" stroke-width="0.4"/>
<line x1="40.9" y1="182.88" x2="55.8" y2="180.94" stroke="#6a6a6a" stroke-width="0.4"/>
<line x1="40.9" y1="183.52" x2="55.8" y2="181.59" stroke="#6a6a6a" stroke-width="0.4"/>
<line x1="40.9" y1="184.16" x2="55.8" y2="182.23" stroke="#6a6a6a" stroke-width="0.4"/>
<line x1="40.9" y1="184.81" x2="55.8" y2="183.52" stroke="#6a6a6a" stroke-width="0.4"/>
<rect x="40.0" y="168.43" width="1.8" height="1.8" fill="#dc1f2c"/>
<rect x="40.0" y="175.52" width="1.8" height="1.8" fill="#dc1f2c"/>
<rect x="40.0" y="176.17" width="1.8" height="1.8" fill="#dc1f2c"/>
<rect x="40.0" y="176.81" width="1.8" height="1.8" fill="#dc1f2c"/>
<rect x="40.0" y="177.46" width="1.8" height="1.8" fill="#dc1f2c"/>
<rect x="40.0" y="178.10" width="1.8" height="1.8" fill="#dc1f2c"/>
<rect x="40.0" y="178.75" width="1.8" height="1.8" fill="#dc1f2c"/>
<rect x="40.0" y="179.39" width="1.8" height="1.8" fill="#dc1f2c"/>
<rect x="40.0" y="180.04" width="1.8" height="1.8" fill="#dc1f2c"/>
<rect x="40.0" y="180.69" width="1.8" height="1.8" fill="#dc1f2c"/>
<rect x="40.0" y="181.33" width="1.8" height="1.8" fill="#dc1f2c"/>
<rect x="40.0" y="181.97" width="1.8" height="1.8" fill="#dc1f2c"/>
<rect x="40.0" y="182.62" width="1.8" height="1.8" fill="#dc1f2c"/>
<rect x="40.0" y="183.26" width="1.8" height="1.8" fill="#dc1f2c"/>
<rect x="40.0" y="183.91" width="1.8" height="1.8" fill="#dc1f2c"/>
<circle cx="55.8" cy="179.65" r="0.95" fill="#1e1ea6"/>
<circle cx="55.8" cy="173.20" r="0.95" fill="#1e1ea6"/>
<circle cx="55.8" cy="173.84" r="0.95" fill="#1e1ea6"/>
<circle cx="55.8" cy="174.49" r="0.95" fill="#1e1ea6"/>
<circle cx="55.8" cy="175.13" r="0.95" fill="#1e1ea6"/>
<circle cx="55.8" cy="175.78" r="0.95" fill="#1e1ea6"/>
<circle cx="55.8" cy="177.07" r="0.95" fill="#1e1ea6"/>
<circle cx="55.8" cy="160.30" r="0.95" fill="#1e1ea6"/>
<circle cx="55.8" cy="178.36" r="0.95" fill="#1e1ea6"/>
<circle cx="55.8" cy="177.72" r="0.95" fill="#1e1ea6"/>
<circle cx="55.8" cy="180.29" r="0.95" fill="#1e1ea6"/>
<circle cx="55.8" cy="180.94" r="0.95" fill="#1e1ea6"/>
<circle cx="55.8" cy="181.59" r="0.95" fill="#1e1ea6"/>
<circle cx="55.8" cy="182.23" r="0.95" fill="#1e1ea6"/>
<circle cx="55.8" cy="183.52" r="0.95" fill="#1e1ea6"/>
<text class="s" x="0" y="0" font-size="3.85" font-weight="bold" fill="#222" text-anchor="end" transform="translate(41.8,192.1) rotate(-45)">preCT</text>
<text class="s" x="0" y="0" font-size="3.85" font-weight="bold" fill="#222" text-anchor="end" transform="translate(56.699999999999996,192.1) rotate(-45)">post-PBSC</text>
<text class="s" x="48.8" y="128" font-size="5" font-weight="bold" text-anchor="middle" fill="#111">TEM</text>
<text class="s" x="48.6" y="214.2" font-size="4.4" font-weight="bold" text-anchor="middle" fill="#222">Groups</text>
<text class="m" x="46.9" y="234.3" font-size="5.6" font-weight="bold" text-anchor="middle" fill="#111">P=0.15</text>
<path d="M93.5,133.9 V186.1 H128" fill="none" stroke="#555" stroke-width="0.85"/>
<path d="M92.3,186.1 H93.5" stroke="#555" stroke-width="0.85"/>
<path d="M92.2,186.10 H93.5" stroke="#555" stroke-width="0.6"/>
<text class="t" x="91.2" y="187.60" font-size="3.6" text-anchor="end" font-weight="bold" fill="#111">0</text>
<path d="M92.2,173.05 H93.5" stroke="#555" stroke-width="0.6"/>
<text class="t" x="91.2" y="174.55" font-size="3.6" text-anchor="end" font-weight="bold" fill="#111">10</text>
<path d="M92.2,160.00 H93.5" stroke="#555" stroke-width="0.6"/>
<text class="t" x="91.2" y="161.50" font-size="3.6" text-anchor="end" font-weight="bold" fill="#111">20</text>
<path d="M92.2,146.95 H93.5" stroke="#555" stroke-width="0.6"/>
<text class="t" x="91.2" y="148.45" font-size="3.6" text-anchor="end" font-weight="bold" fill="#111">30</text>
<path d="M92.2,133.90 H93.5" stroke="#555" stroke-width="0.6"/>
<text class="t" x="91.2" y="135.40" font-size="3.6" text-anchor="end" font-weight="bold" fill="#111">40</text>
<path d="M103.5,186.1 V188.29999999999998" stroke="#555" stroke-width="0.8"/>
<path d="M118.7,186.1 V188.29999999999998" stroke="#555" stroke-width="0.8"/>
<text class="s" x="0" y="0" font-size="4" font-weight="bold" fill="#000" transform="translate(83.65,160.0) rotate(-90)" text-anchor="middle">%</text>
<line x1="103.5" y1="143.03" x2="118.7" y2="166.53" stroke="#6a6a6a" stroke-width="0.4"/>
<line x1="103.5" y1="173.05" x2="118.7" y2="170.70" stroke="#6a6a6a" stroke-width="0.4"/>
<line x1="103.5" y1="178.27" x2="118.7" y2="168.61" stroke="#6a6a6a" stroke-width="0.4"/>
<line x1="103.5" y1="178.92" x2="118.7" y2="172.79" stroke="#6a6a6a" stroke-width="0.4"/>
<line x1="103.5" y1="179.57" x2="118.7" y2="175.53" stroke="#6a6a6a" stroke-width="0.4"/>
<line x1="103.5" y1="180.23" x2="118.7" y2="177.62" stroke="#6a6a6a" stroke-width="0.4"/>
<line x1="103.5" y1="180.88" x2="118.7" y2="179.57" stroke="#6a6a6a" stroke-width="0.4"/>
<line x1="103.5" y1="181.53" x2="118.7" y2="180.88" stroke="#6a6a6a" stroke-width="0.4"/>
<line x1="103.5" y1="182.19" x2="118.7" y2="181.53" stroke="#6a6a6a" stroke-width="0.4"/>
<line x1="103.5" y1="182.84" x2="118.7" y2="182.19" stroke="#6a6a6a" stroke-width="0.4"/>
<line x1="103.5" y1="183.49" x2="118.7" y2="183.49" stroke="#6a6a6a" stroke-width="0.4"/>
<line x1="103.5" y1="184.14" x2="118.7" y2="184.14" stroke="#6a6a6a" stroke-width="0.4"/>
<line x1="103.5" y1="184.79" x2="118.7" y2="184.79" stroke="#6a6a6a" stroke-width="0.4"/>
<line x1="103.5" y1="185.45" x2="118.7" y2="185.45" stroke="#6a6a6a" stroke-width="0.4"/>
<rect x="102.6" y="142.13" width="1.8" height="1.8" fill="#dc1f2c"/>
<rect x="102.6" y="172.15" width="1.8" height="1.8" fill="#dc1f2c"/>
<rect x="102.6" y="177.37" width="1.8" height="1.8" fill="#dc1f2c"/>
<rect x="102.6" y="178.02" width="1.8" height="1.8" fill="#dc1f2c"/>
<rect x="102.6" y="178.67" width="1.8" height="1.8" fill="#dc1f2c"/>
<rect x="102.6" y="179.33" width="1.8" height="1.8" fill="#dc1f2c"/>
<rect x="102.6" y="179.98" width="1.8" height="1.8" fill="#dc1f2c"/>
<rect x="102.6" y="180.63" width="1.8" height="1.8" fill="#dc1f2c"/>
<rect x="102.6" y="181.28" width="1.8" height="1.8" fill="#dc1f2c"/>
<rect x="102.6" y="181.94" width="1.8" height="1.8" fill="#dc1f2c"/>
<rect x="102.6" y="182.59" width="1.8" height="1.8" fill="#dc1f2c"/>
<rect x="102.6" y="183.24" width="1.8" height="1.8" fill="#dc1f2c"/>
<rect x="102.6" y="183.89" width="1.8" height="1.8" fill="#dc1f2c"/>
<rect x="102.6" y="184.55" width="1.8" height="1.8" fill="#dc1f2c"/>
<circle cx="118.7" cy="166.53" r="0.95" fill="#1e1ea6"/>
<circle cx="118.7" cy="170.70" r="0.95" fill="#1e1ea6"/>
<circle cx="118.7" cy="168.61" r="0.95" fill="#1e1ea6"/>
<circle cx="118.7" cy="172.79" r="0.95" fill="#1e1ea6"/>
<circle cx="118.7" cy="175.53" r="0.95" fill="#1e1ea6"/>
<circle cx="118.7" cy="177.62" r="0.95" fill="#1e1ea6"/>
<circle cx="118.7" cy="179.57" r="0.95" fill="#1e1ea6"/>
<circle cx="118.7" cy="180.88" r="0.95" fill="#1e1ea6"/>
<circle cx="118.7" cy="181.53" r="0.95" fill="#1e1ea6"/>
<circle cx="118.7" cy="182.19" r="0.95" fill="#1e1ea6"/>
<circle cx="118.7" cy="183.49" r="0.95" fill="#1e1ea6"/>
<circle cx="118.7" cy="184.14" r="0.95" fill="#1e1ea6"/>
<circle cx="118.7" cy="184.79" r="0.95" fill="#1e1ea6"/>
<circle cx="118.7" cy="185.45" r="0.95" fill="#1e1ea6"/>
<text class="s" x="0" y="0" font-size="3.85" font-weight="bold" fill="#222" text-anchor="end" transform="translate(104.4,192.1) rotate(-45)">preCT</text>
<text class="s" x="0" y="0" font-size="3.85" font-weight="bold" fill="#222" text-anchor="end" transform="translate(119.60000000000001,192.1) rotate(-45)">post-PBSC</text>
<text class="s" x="110.7" y="127.6" font-size="5" font-weight="bold" text-anchor="middle" fill="#111">Teff</text>
<text class="s" x="110.5" y="213.1" font-size="4.4" font-weight="bold" text-anchor="middle" fill="#222">Groups</text>
<text class="m" x="115.6" y="232.4" font-size="5.6" font-weight="bold" text-anchor="middle" fill="#111">P=0.07</text>
<path d="M151.6,134.5 V186.1 H186.7" fill="none" stroke="#555" stroke-width="0.85"/>
<path d="M150.4,186.1 H151.6" stroke="#555" stroke-width="0.85"/>
<path d="M150.29999999999998,186.10 H151.6" stroke="#555" stroke-width="0.6"/>
<text class="t" x="149.29999999999998" y="187.60" font-size="3.6" text-anchor="end" font-weight="bold" fill="#111">0</text>
<path d="M150.29999999999998,173.20 H151.6" stroke="#555" stroke-width="0.6"/>
<text class="t" x="149.29999999999998" y="174.70" font-size="3.6" text-anchor="end" font-weight="bold" fill="#111">5</text>
<path d="M150.29999999999998,160.30 H151.6" stroke="#555" stroke-width="0.6"/>
<text class="t" x="149.29999999999998" y="161.80" font-size="3.6" text-anchor="end" font-weight="bold" fill="#111">10</text>
<path d="M150.29999999999998,147.40 H151.6" stroke="#555" stroke-width="0.6"/>
<text class="t" x="149.29999999999998" y="148.90" font-size="3.6" text-anchor="end" font-weight="bold" fill="#111">15</text>
<path d="M150.29999999999998,134.50 H151.6" stroke="#555" stroke-width="0.6"/>
<text class="t" x="149.29999999999998" y="136.00" font-size="3.6" text-anchor="end" font-weight="bold" fill="#111">20</text>
<path d="M161.9,186.1 V188.29999999999998" stroke="#555" stroke-width="0.8"/>
<path d="M176.8,186.1 V188.29999999999998" stroke="#555" stroke-width="0.8"/>
<text class="s" x="0" y="0" font-size="4" font-weight="bold" fill="#000" transform="translate(141.75,160.3) rotate(-90)" text-anchor="middle">%</text>
<line x1="161.9" y1="137.08" x2="176.8" y2="173.46" stroke="#6a6a6a" stroke-width="0.4"/>
<line x1="161.9" y1="157.98" x2="176.8" y2="158.75" stroke="#6a6a6a" stroke-width="0.4"/>
<line x1="161.9" y1="163.91" x2="176.8" y2="142.76" stroke="#6a6a6a" stroke-width="0.4"/>
<line x1="161.9" y1="167.78" x2="176.8" y2="154.88" stroke="#6a6a6a" stroke-width="0.4"/>
<line x1="161.9" y1="169.33" x2="176.8" y2="162.11" stroke="#6a6a6a" stroke-width="0.4"/>
<line x1="161.9" y1="171.14" x2="176.8" y2="164.43" stroke="#6a6a6a" stroke-width="0.4"/>
<line x1="161.9" y1="172.94" x2="176.8" y2="165.46" stroke="#6a6a6a" stroke-width="0.4"/>
<line x1="161.9" y1="174.49" x2="176.8" y2="166.49" stroke="#6a6a6a" stroke-width="0.4"/>
<line x1="161.9" y1="176.81" x2="176.8" y2="168.81" stroke="#6a6a6a" stroke-width="0.4"/>
<line x1="161.9" y1="179.13" x2="176.8" y2="177.84" stroke="#6a6a6a" stroke-width="0.4"/>
<line x1="161.9" y1="180.68" x2="176.8" y2="182.49" stroke="#6a6a6a" stroke-width="0.4"/>
<line x1="161.9" y1="168.56" x2="176.8" y2="179.13" stroke="#6a6a6a" stroke-width="0.4"/>
<line x1="161.9" y1="175.78" x2="176.8" y2="180.68" stroke="#6a6a6a" stroke-width="0.4"/>
<line x1="161.9" y1="178.36" x2="176.8" y2="168.04" stroke="#6a6a6a" stroke-width="0.4"/>
<rect x="161.0" y="136.18" width="1.8" height="1.8" fill="#dc1f2c"/>
<rect x="161.0" y="157.08" width="1.8" height="1.8" fill="#dc1f2c"/>
<rect x="161.0" y="163.01" width="1.8" height="1.8" fill="#dc1f2c"/>
<rect x="161.0" y="166.88" width="1.8" height="1.8" fill="#dc1f2c"/>
<rect x="161.0" y="168.43" width="1.8" height="1.8" fill="#dc1f2c"/>
<rect x="161.0" y="170.24" width="1.8" height="1.8" fill="#dc1f2c"/>
<rect x="161.0" y="172.04" width="1.8" height="1.8" fill="#dc1f2c"/>
<rect x="161.0" y="173.59" width="1.8" height="1.8" fill="#dc1f2c"/>
<rect x="161.0" y="175.91" width="1.8" height="1.8" fill="#dc1f2c"/>
<rect x="161.0" y="178.23" width="1.8" height="1.8" fill="#dc1f2c"/>
<rect x="161.0" y="179.78" width="1.8" height="1.8" fill="#dc1f2c"/>
<rect x="161.0" y="167.66" width="1.8" height="1.8" fill="#dc1f2c"/>
<rect x="161.0" y="174.88" width="1.8" height="1.8" fill="#dc1f2c"/>
<rect x="161.0" y="177.46" width="1.8" height="1.8" fill="#dc1f2c"/>
<circle cx="176.8" cy="173.46" r="0.95" fill="#1e1ea6"/>
<circle cx="176.8" cy="158.75" r="0.95" fill="#1e1ea6"/>
<circle cx="176.8" cy="142.76" r="0.95" fill="#1e1ea6"/>
<circle cx="176.8" cy="154.88" r="0.95" fill="#1e1ea6"/>
<circle cx="176.8" cy="162.11" r="0.95" fill="#1e1ea6"/>
<circle cx="176.8" cy="164.43" r="0.95" fill="#1e1ea6"/>
<circle cx="176.8" cy="165.46" r="0.95" fill="#1e1ea6"/>
<circle cx="176.8" cy="166.49" r="0.95" fill="#1e1ea6"/>
<circle cx="176.8" cy="168.81" r="0.95" fill="#1e1ea6"/>
<circle cx="176.8" cy="177.84" r="0.95" fill="#1e1ea6"/>
<circle cx="176.8" cy="182.49" r="0.95" fill="#1e1ea6"/>
<circle cx="176.8" cy="179.13" r="0.95" fill="#1e1ea6"/>
<circle cx="176.8" cy="180.68" r="0.95" fill="#1e1ea6"/>
<circle cx="176.8" cy="168.04" r="0.95" fill="#1e1ea6"/>
<text class="s" x="0" y="0" font-size="3.85" font-weight="bold" fill="#222" text-anchor="end" transform="translate(162.8,192.1) rotate(-45)">preCT</text>
<text class="s" x="0" y="0" font-size="3.85" font-weight="bold" fill="#222" text-anchor="end" transform="translate(177.70000000000002,192.1) rotate(-45)">post-PBSC</text>
<text class="s" x="169.2" y="127.6" font-size="5" font-weight="bold" text-anchor="middle" fill="#111">PD1</text>
<text class="s" x="169.1" y="213.1" font-size="4.4" font-weight="bold" text-anchor="middle" fill="#222">Groups</text>
<text class="m" x="170.1" y="229.1" font-size="5.6" font-weight="bold" text-anchor="middle" fill="#111">P=0.82</text>
<text class="s" x="7.9" y="15.2" font-size="6" font-weight="bold" fill="#111">A</text>
<text class="s" x="290.1" y="17.1" font-size="5.4" font-weight="bold" fill="#222">B</text>
</g>
</svg>
</body></html>
